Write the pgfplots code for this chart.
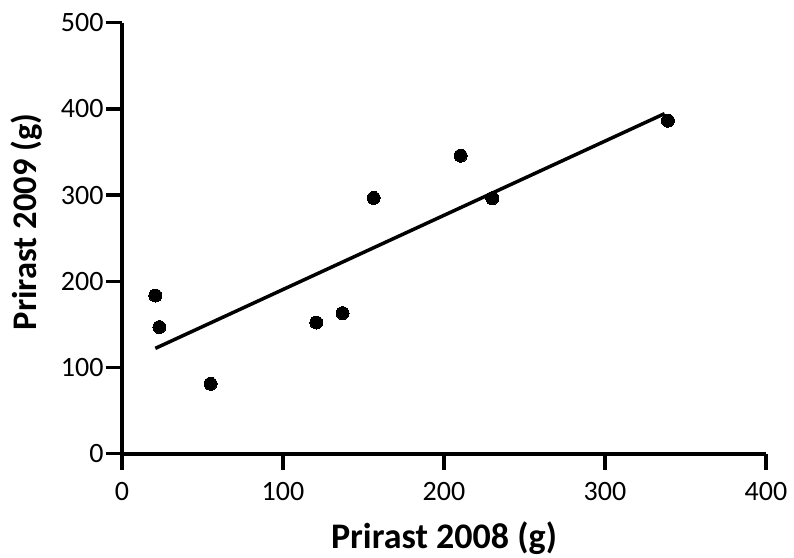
\documentclass[border=0pt]{standalone}
\usepackage{pgfplots}
\pgfplotsset{compat=1.18}
\usepackage{fontspec}
\setmainfont{Carlito}
\begin{document}
\begin{tikzpicture}
\begin{axis}[
  width=644pt, height=431pt, scale only axis,
  xmin=0, xmax=400, ymin=0, ymax=500,
  axis x line*=bottom, axis y line*=left,
  axis line style={line width=4pt, black, -},
  xtick={0,100,200,300,400}, ytick={0,100,200,300,400,500},
  minor tick num=0,
  tick align=outside, major tick length=16pt,
  tick style={line width=3.5pt, black},
  /pgf/number format/assume math mode=true,
  ticklabel style={font=\fontsize{28}{30}\selectfont},
  xticklabel style={yshift=-9pt},
  yticklabel style={xshift=1pt},
  xlabel={Prirast 2008 (g)},
  ylabel={Prirast 2009 (g)},
  xlabel style={font=\fontsize{36}{40}\selectfont\bfseries, at={(axis description cs:0.5,-0.195)}, anchor=center},
  ylabel style={font=\fontsize{34.5}{38}\selectfont\bfseries, at={(axis description cs:-0.148,0.538)}, anchor=center},
  clip=false,
]
\addplot[black, line width=3.5pt, no marks] coordinates {(20.7,122.2) (337,394.5)};
\addplot[only marks, mark=*, mark size=6.5pt, mark options={fill=black, draw=black, line width=0pt}] coordinates {
(20.7,183.5) (23.2,146.9) (55.0,81.1) (120.7,152.2) (137.0,163.1)
(156.3,296.7) (210.3,345.8) (230.0,296.4) (339.1,386.3)};
\end{axis}
\path ([xshift=-122pt,yshift=-104pt]current axis.south west) rectangle ([xshift=28pt,yshift=22.7pt]current axis.north east);
\end{tikzpicture}
\end{document}
